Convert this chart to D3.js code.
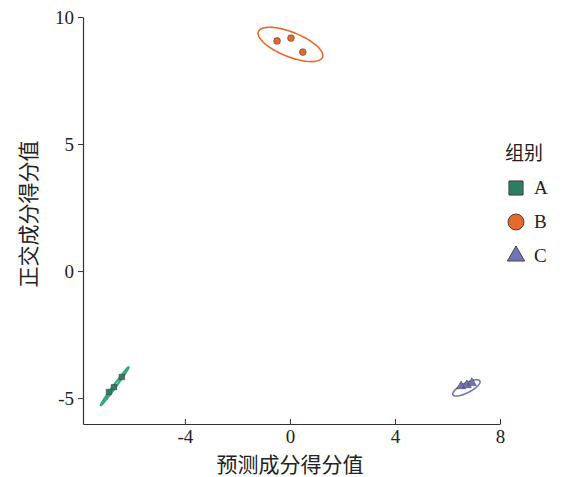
<!DOCTYPE html>
<html>
<head>
<meta charset="utf-8">
<script src="https://cdn.jsdelivr.net/npm/d3@7"></script>
<style>
  body { margin: 0; background: #fff; }
  .tick text { font-family: "Liberation Serif", "DejaVu Serif", serif; font-size: 19px; fill: #222; }
  .axis-title { font-family: "Noto Sans CJK SC", sans-serif; font-size: 21px; fill: #222; }
</style>
</head>
<body>
<svg id="chart" width="562" height="477"></svg>
<script>
// groups and scores
var groups = ["A", "B", "C"];
var groupColors = ["#2b7f60", "#e8692b", "#7274b8"];
var ellipseColors = ["#33a97d", "#e8692b", "#7274b8"];

var xA = [-6.40, -6.70, -6.89];
var yA = [-4.17, -4.57, -4.76];
var xB = [-0.49, 0.04, 0.49];
var yB = [9.06, 9.17, 8.62];
var xC = [6.52, 6.74, 6.93];
var yC = [-4.53, -4.49, -4.40];

// confidence ellipses: centre, semi-axes and angle (data units, degrees)
var ellCx = [-6.67, 0.02, 6.72];
var ellCy = [-4.53, 8.92, -4.60];
var ellRx = [0.92, 1.32, 0.58];
var ellRy = [0.05, 0.48, 0.19];
var ellAngle = [54.7, -22.7, 28];

var xTicks = [-4, 0, 4, 8];
var yTicks = [-5, 0, 5, 10];

var svg = d3.select("#chart");
var pLeft = 83, pRight = 500, pTop = 17, pBottom = 424;

var x = d3.scaleLinear().domain([-7.88, 8]).range([pLeft, pRight]);
var y = d3.scaleLinear().domain([-6.02, 10]).range([pBottom, pTop]);

// axes
var xAxis = svg.append("g")
    .attr("transform", "translate(0," + pBottom + ")")
    .call(d3.axisBottom(x).tickValues(xTicks).tickFormat(String)
        .tickSizeInner(-5).tickSizeOuter(0).tickPadding(6));
var yAxis = svg.append("g")
    .attr("transform", "translate(" + pLeft + ",0)")
    .call(d3.axisLeft(y).tickValues(yTicks).tickFormat(String)
        .tickSize(5).tickSizeOuter(0).tickPadding(4));

[xAxis, yAxis].forEach(function (a) {
    a.select(".domain").attr("stroke", "#333").attr("stroke-width", 1.2);
    a.selectAll(".tick line").attr("stroke", "#333");
});

// ellipses
var t = d3.range(0, 2 * Math.PI + 0.01, Math.PI / 60);
var line = d3.line().x(function (d) { return x(d[0]); }).y(function (d) { return y(d[1]); });

groups.forEach(function (g, i) {
    var a = ellAngle[i] * Math.PI / 180;
    var pts = t.map(function (s) {
        var u = ellRx[i] * Math.cos(s), v = ellRy[i] * Math.sin(s);
        return [ellCx[i] + u * Math.cos(a) - v * Math.sin(a),
                ellCy[i] + u * Math.sin(a) + v * Math.cos(a)];
    });
    svg.append("path")
        .attr("d", line(pts))
        .attr("fill", "none")
        .attr("stroke", ellipseColors[i])
        .attr("stroke-width", i == 0 ? 2.2 : 1.6);
});

// points
var xs = [xA, xB, xC], ys = [yA, yB, yC];
var shapes = [d3.symbolSquare, d3.symbolCircle, d3.symbolTriangle];
var sizes = [30, 36, 34];

groups.forEach(function (g, i) {
    svg.append("g").selectAll("path")
        .data(xs[i].map(function (v, j) { return [v, ys[i][j]]; }))
        .enter()
        .append("path")
        .attr("transform", function (d) { return "translate(" + x(d[0]) + "," + y(d[1]) + ")"; })
        .attr("d", d3.symbol().type(shapes[i]).size(sizes[i]))
        .attr("fill", groupColors[i])
        .attr("stroke", "#444")
        .attr("stroke-width", 0.6);
});

// axis titles
svg.append("text")
    .attr("class", "axis-title")
    .attr("x", x(0))
    .attr("y", 472)
    .attr("text-anchor", "middle")
    .text("预测成分得分值");

svg.append("text")
    .attr("class", "axis-title")
    .attr("transform", "translate(36," + 214 + ") rotate(-90)")
    .attr("text-anchor", "middle")
    .text("正交成分得分值");

// legend
var legend = svg.append("g").attr("transform", "translate(505,0)");
legend.append("text")
    .attr("class", "axis-title")
    .attr("x", 0)
    .attr("y", 160)
    .style("font-size", "19px")
    .text("组别");

groups.forEach(function (g, i) {
    var ly = 188 + i * 34;
    legend.append("path")
        .attr("transform", "translate(11," + ly + ")")
        .attr("d", d3.symbol().type(shapes[i]).size(i == 2 ? 130 : 200))
        .attr("fill", groupColors[i])
        .attr("stroke", "#444")
        .attr("stroke-width", 1);
    legend.append("text")
        .attr("x", 29)
        .attr("y", ly + 6)
        .style("font-family", "'Liberation Serif', serif")
        .style("font-size", "19px")
        .style("fill", "#222")
        .text(g);
});
</script>
</body>
</html>
